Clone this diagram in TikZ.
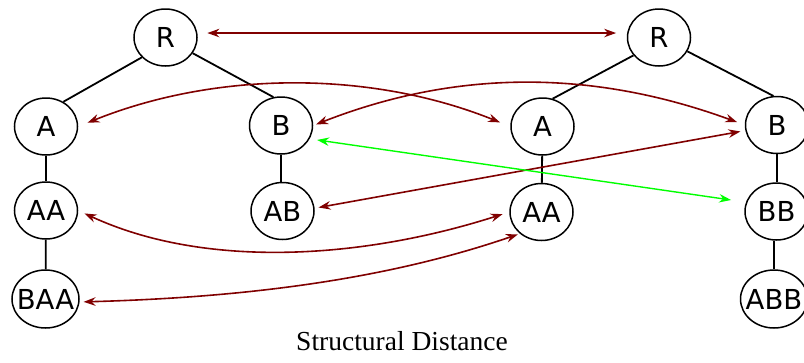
\documentclass[tikz,border=0pt]{standalone}
\usepackage{fontspec}
\setmainfont{Liberation Serif}
\newfontfamily\nodefont{DejaVu Sans}
\usetikzlibrary{shapes.geometric,arrows.meta}
\definecolor{corrred}{RGB}{128,0,0}
\definecolor{corrgreen}{RGB}{0,255,0}
\newcommand{\nlabel}[1]{\makebox[0pt]{#1}}
\begin{document}
\begin{tikzpicture}[x=1pt,y=-1pt,
  tn/.style={draw,ellipse,line width=1.5pt,minimum width=63pt,minimum height=57pt,
    inner sep=0pt,font=\nodefont\fontsize{27.5}{27.5}\selectfont},
  widen/.style={minimum width=67pt,minimum height=58pt},
  tedge/.style={line width=1.8pt},
  tipst/.tip={Stealth[length=12pt,width=8.5pt,inset=4pt]},
  corr/.style={draw=corrred,line width=1.6pt,tipst-tipst},
  corrg/.style={draw=corrgreen,line width=1.4pt,tipst-tipst}]
\fill[white] (0,0) rectangle (804,362);
\useasboundingbox (0,0) rectangle (804,362);
% left tree
\node[tn] (RL) at (165.5,37.5) {\nlabel{R}};
\node[tn] (AL) at (46,126.5) {\nlabel{A}};
\node[tn] (BL) at (281,125.5) {\nlabel{B}};
\node[tn] (AAL) at (46,210.5) {\nlabel{AA}};
\node[tn,widen] (BAA) at (45.5,299) {\nlabel{BAA}};
\node[tn] (AB) at (282.5,211) {\nlabel{AB}};
% right tree
\node[tn] (RR) at (659,37.5) {\nlabel{R}};
\node[tn] (AR) at (542.5,126.5) {\nlabel{A}};
\node[tn] (BR) at (777,125) {\nlabel{B}};
\node[tn] (AAR) at (541.5,212) {\nlabel{AA}};
\node[tn] (BB) at (776.5,211.5) {\nlabel{BB}};
\node[tn,widen] (ABB) at (774,299) {\nlabel{ABB}};
% tree edges
\draw[tedge] (RL.220) -- (AL.55);
\draw[tedge] (RL.330) -- (BL.105);
\draw[tedge] (AL) -- (AAL);
\draw[tedge] (AAL) -- (BAA);
\draw[tedge] (BL.south) -- (BL.south |- AB.north);
\draw[tedge] (RR.215) -- (AR.70);
\draw[tedge] (RR.334) -- (BR.97);
\draw[tedge] (AR) -- (AAR);
\draw[tedge] (BR.south) -- (BR.south |- BB.north);
\draw[tedge] (ABB.north |- BB.south) -- (ABB.north);
% correspondences
\draw[corr,shorten <=10pt,shorten >=11pt] (RL.8) -- (RR.172);
\draw[corr,shorten <=10pt,shorten >=11pt] (AL.east) .. controls +(139,-56) and +(-139,-56) .. (AR.west);
\draw[corr,shorten <=3pt,shorten >=8pt] (BL.east) .. controls +(145,-57) and +(-150,-55) .. (BR.west);
\draw[corr,shorten <=4pt,shorten >=5pt] (AB.5) -- (BR.190);
\draw[corrg,shorten <=7.5pt,shorten >=15pt] (BL.-25) -- (BB.163);
\draw[corr,shorten <=7pt,shorten >=7pt] (AAL.east) .. controls +(125,58) and +(-150,48) .. (AAR.west);
\draw[corr,shorten <=4pt,shorten >=2pt] (BAA.-5) .. controls +(145,-4) and +(-145,50) .. (AAR.225);
% caption
\node[anchor=base,font=\fontsize{27.5}{30}\selectfont] (cap) at (402,350) {Structural Distance};
\end{tikzpicture}
\end{document}
